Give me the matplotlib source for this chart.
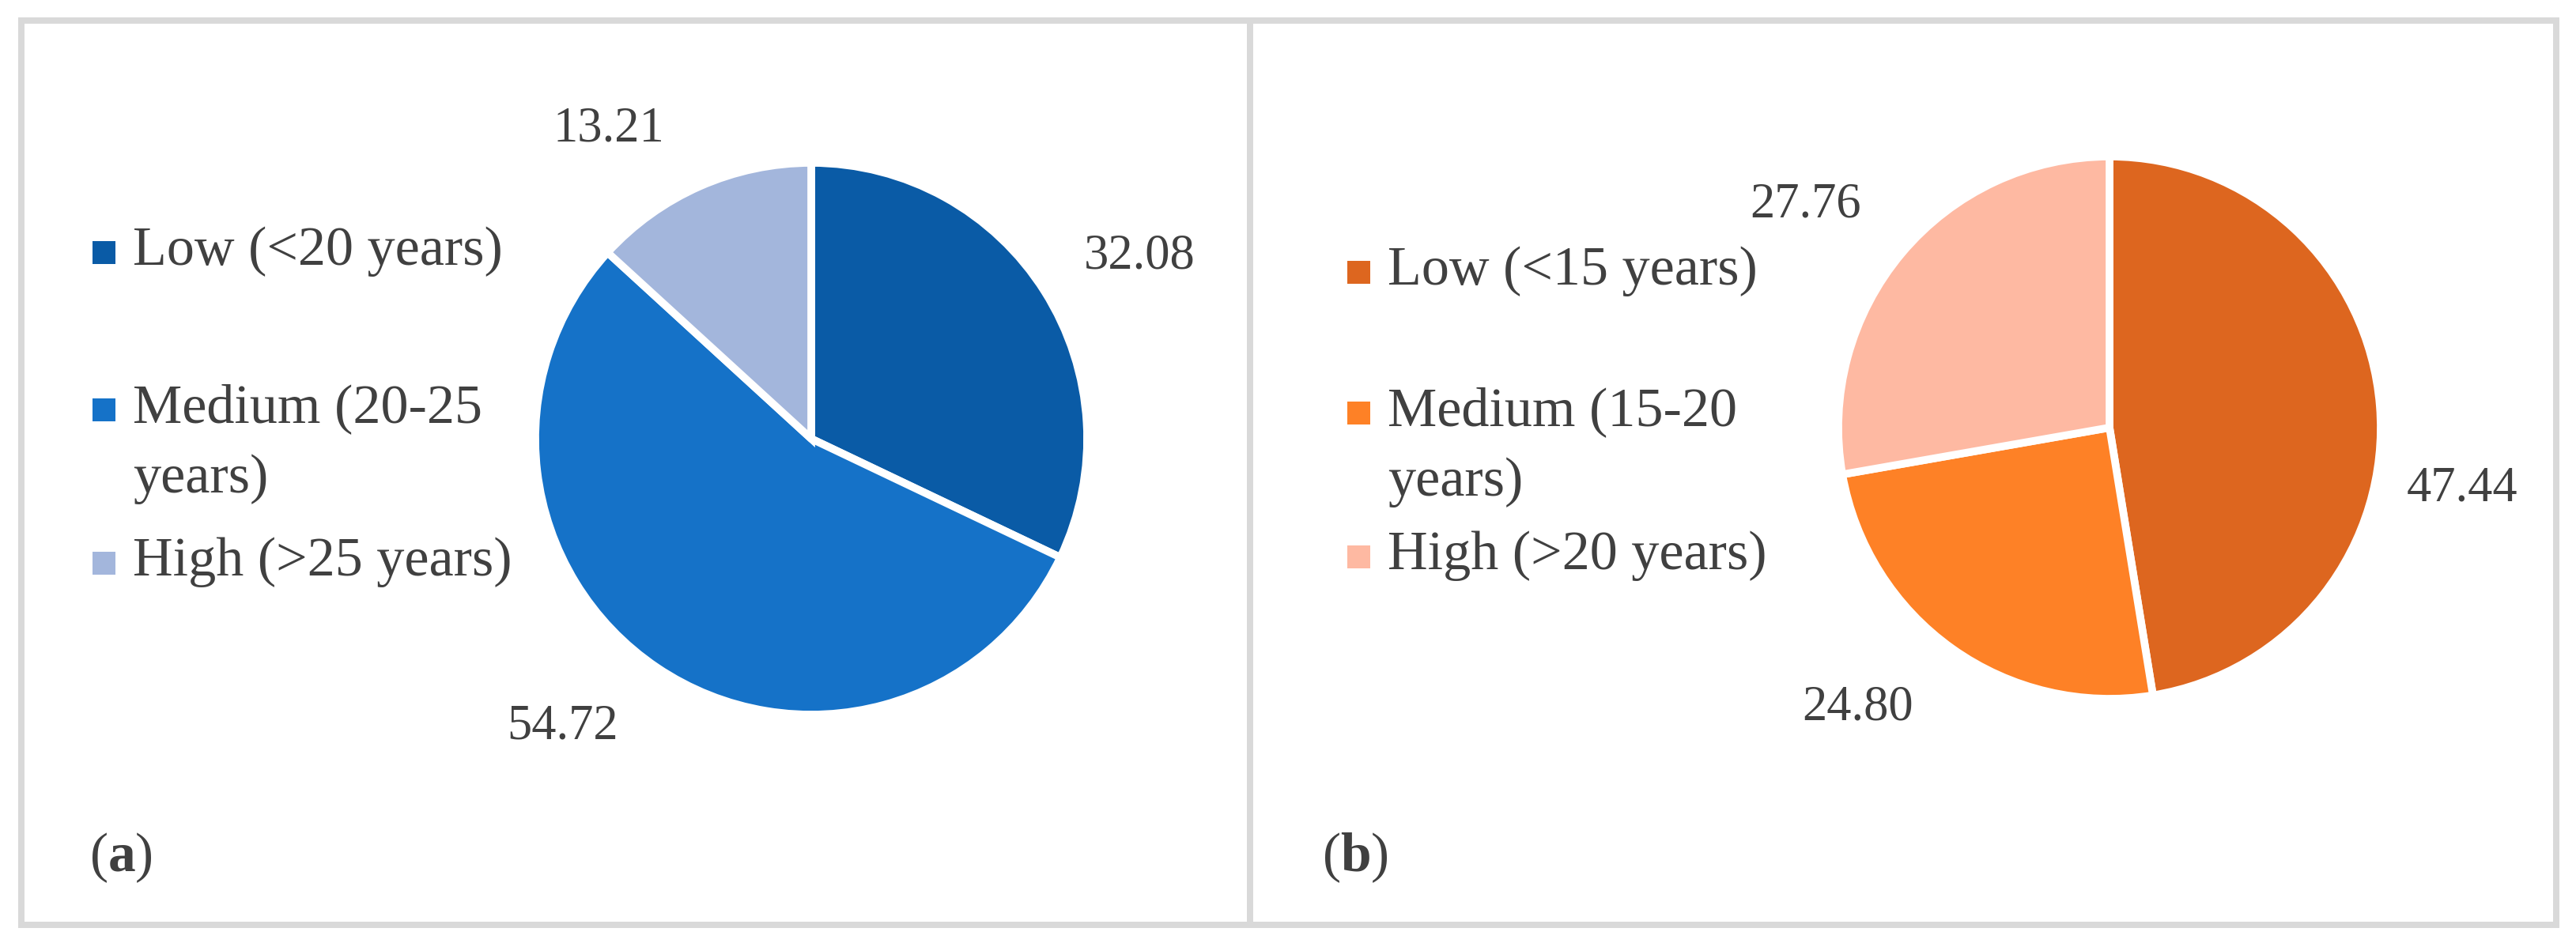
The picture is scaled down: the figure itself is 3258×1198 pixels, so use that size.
import numpy as np
import matplotlib
matplotlib.use("Agg")
import matplotlib.pyplot as plt
from matplotlib.patches import Rectangle

# ---- data ----
labels_a = ["Low (<20 years)", "Medium (20-25\nyears)", "High (>25 years)"]
values_a = [32.08, 54.72, 13.21]
labels_b = ["Low (<15 years)", "Medium (15-20\nyears)", "High (>20 years)"]
values_b = [47.44, 24.80, 27.76]
panel_tags = ["a", "b"]

colors_a = ["#0A5BA6", "#1572C8", "#A3B6DC"]
colors_b = ["#DD661F", "#FE8126", "#FEB9A2"]

W, H = 3258, 1198
TXT = "#404040"
plt.rcParams["font.family"] = ["Liberation Serif", "DejaVu Serif"]
plt.rcParams["mathtext.fontset"] = "custom"
plt.rcParams["mathtext.rm"] = "Liberation Serif"
plt.rcParams["mathtext.bf"] = "Liberation Serif:bold"

fig = plt.figure(figsize=(W / 100, H / 100), dpi=100)
fig.patch.set_facecolor("white")

def fx(x):
    return x / W

def fy(y):
    return 1 - y / H

# panel borders
border_lw = 8 * 72 / 100
for x0, x1 in [(27, 1581), (1581, 3233)]:
    fig.add_artist(Rectangle((fx(x0), fy(1170)), fx(x1) - fx(x0), fy(26) - fy(1170),
                             transform=fig.transFigure, fill=False,
                             edgecolor="#D9D9D9", linewidth=border_lw))

panels = [
    dict(values=values_a, labels=labels_a, colors=colors_a, cx=1026, cy=555, r=349,
         lab=[(1.36, -3.2), (1.38, -6.8), (1.34, 9.4)],
         sq_x=117, txt_x=168, base=[335, 534, 728], tag_x=113),
    dict(values=values_b, labels=labels_b, colors=colors_b, cx=2668, cy=541, r=343,
         lab=[(1.32, -14.4), (1.39, -6.5), (1.39, 3.8)],
         sq_x=1704, txt_x=1755, base=[360, 538, 720], tag_x=1672),
]

line_gap = 89
sq = 29
for p, tag in zip(panels, panel_tags):
    half = 1.5 * p["r"]
    ax = fig.add_axes([fx(p["cx"] - half), 1 - (p["cy"] + half) / H, 2 * half / W, 2 * half / H])
    wedges, _ = ax.pie(p["values"], colors=p["colors"], startangle=90, counterclock=False,
                       radius=1, wedgeprops=dict(edgecolor="white", linewidth=7))
    ax.set_xlim(-1.5, 1.5)
    ax.set_ylim(-1.5, 1.5)
    ax.set_aspect("equal")
    ax.axis("off")
    for w, v, (d, off) in zip(wedges, p["values"], p["lab"]):
        mid = np.deg2rad((w.theta1 + w.theta2) / 2 + off)
        ax.text(d * np.cos(mid), d * np.sin(mid), f"{v:.2f}", ha="center", va="center",
                fontsize=45, color=TXT, clip_on=False)
    # legend
    for lab, c, b in zip(p["labels"], p["colors"], p["base"]):
        fig.add_artist(Rectangle((fx(p["sq_x"]), fy(b - 16 + sq / 2)), sq / W, sq / H,
                                 transform=fig.transFigure, facecolor=c, edgecolor="none"))
        for i, line in enumerate(lab.split("\n")):
            fig.text(fx(p["txt_x"]), fy(b + i * line_gap), line, ha="left", va="baseline",
                     fontsize=50.5, color=TXT)
    fig.text(fx(p["tag_x"]), fy(1085), r"($\mathbf{%s}$)" % tag, ha="left", va="center",
             fontsize=50, color=TXT)

fig.savefig("out.png", dpi=100, facecolor="white")
